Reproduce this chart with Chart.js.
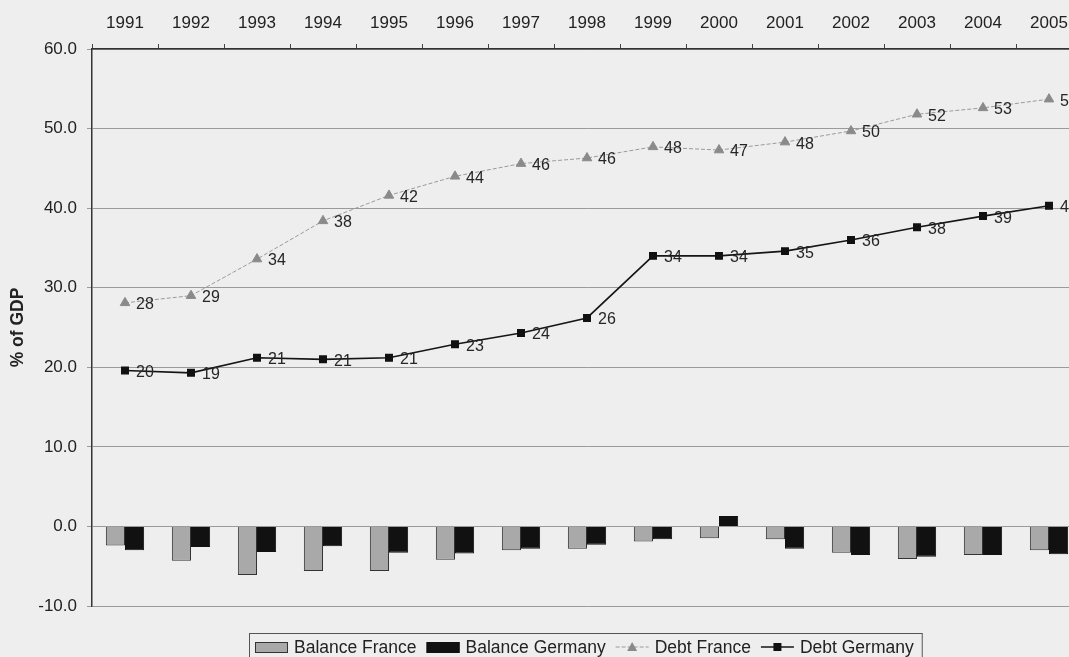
<!DOCTYPE html>
<html>
<head>
<meta charset="utf-8">
<script src="https://cdn.jsdelivr.net/npm/chart.js@4.4.1/dist/chart.umd.min.js"></script>
<style>
html, body { margin: 0; padding: 0; background: #eeeeee; overflow: hidden; width: 1069px; height: 657px; }
#wrap { position: absolute; left: 0; top: 0; width: 1100px; height: 670px; }
</style>
</head>
<body>
<div id="wrap"><canvas id="c" width="1100" height="670"></canvas></div>
<script>
const years = ['1991','1992','1993','1994','1995','1996','1997','1998','1999','2000','2001','2002','2003','2004','2005'];
const balanceFrance  = [-2.4, -4.3, -6.1, -5.6, -5.6, -4.2, -3.0, -2.8, -1.9, -1.5, -1.6, -3.3, -4.1, -3.6, -3.0];
const balanceGermany = [-3.0, -2.6, -3.2, -2.5, -3.3, -3.4, -2.8, -2.3, -1.6, 1.3, -2.8, -3.6, -3.8, -3.6, -3.5];
const debtFrance  = [28.1, 29.0, 33.6, 38.4, 41.6, 44.0, 45.6, 46.3, 47.7, 47.3, 48.3, 49.7, 51.8, 52.6, 53.7];
const debtGermany = [19.6, 19.3, 21.2, 21.0, 21.2, 22.9, 24.3, 26.2, 34.0, 34.0, 34.6, 36.0, 37.6, 39.0, 40.3];
const yTicks = [-10, 0, 10, 20, 30, 40, 50, 60];

const FONT = '"Liberation Sans", Arial, sans-serif';

const valueLabels = {
  id: 'valueLabels',
  afterDatasetsDraw(chart) {
    const ctx = chart.ctx;
    ctx.save();
    ctx.font = '16px ' + FONT;
    ctx.fillStyle = '#262626';
    ctx.textAlign = 'left';
    ctx.textBaseline = 'middle';
    chart.data.datasets.forEach((ds, i) => {
      if (ds.type !== 'line') return;
      const meta = chart.getDatasetMeta(i);
      meta.data.forEach((pt, j) => {
        ctx.fillText(String(Math.round(ds.data[j])), pt.x + 11, pt.y + 2);
      });
    });
    ctx.restore();
  }
};

const customLegend = {
  id: 'customLegend',
  afterDraw(chart) {
    const ctx = chart.ctx;
    const ca = chart.chartArea;
    ctx.save();
    ctx.font = '17.5px ' + FONT;
    const sw = 33, gapT = 6, gapI = 10, padL = 6, padR = 8;
    const items = chart.data.datasets.map(ds => ({ds, w: sw + gapT + ctx.measureText(ds.label).width}));
    let total = padL + padR;
    items.forEach((it, k) => { total += it.w + (k < items.length - 1 ? gapI : 0); });
    const cx = (ca.left + ca.right) / 2 - 2;
    const left = Math.round(cx - total / 2);
    const top = 633, h = 30, cy = 647;
    ctx.fillStyle = '#eeeeee';
    ctx.fillRect(left, top, total, h);
    ctx.strokeStyle = '#555';
    ctx.lineWidth = 1;
    ctx.strokeRect(left + 0.5, top + 0.5, total, h);
    let x = left + padL;
    items.forEach(it => {
      const ds = it.ds;
      if (ds.type === 'bar') {
        ctx.fillStyle = ds.backgroundColor;
        ctx.fillRect(x, cy - 5, sw, 11);
        ctx.strokeStyle = ds.borderColor;
        ctx.strokeRect(x + 0.5, cy - 5 + 0.5, sw - 1, 10);
      } else {
        ctx.strokeStyle = ds.borderColor;
        ctx.lineWidth = ds.borderWidth;
        ctx.setLineDash(ds.borderDash || []);
        ctx.beginPath(); ctx.moveTo(x, cy); ctx.lineTo(x + sw, cy); ctx.stroke();
        ctx.setLineDash([]);
        ctx.lineWidth = 1;
        ctx.fillStyle = ds.pointBackgroundColor;
        const mx = x + sw / 2;
        if (ds.pointStyle === 'triangle') {
          ctx.beginPath(); ctx.moveTo(mx, cy - 5); ctx.lineTo(mx + 5, cy + 4); ctx.lineTo(mx - 5, cy + 4); ctx.closePath(); ctx.fill();
        } else {
          ctx.fillRect(mx - 4, cy - 4, 8, 8);
        }
      }
      ctx.fillStyle = '#222';
      ctx.textAlign = 'left';
      ctx.textBaseline = 'middle';
      ctx.fillText(ds.label, x + sw + gapT, cy + 1);
      x += it.w + gapI;
    });
    ctx.restore();
  }
};

new Chart(document.getElementById('c'), {
  data: {
    labels: years,
    datasets: [
      { type: 'bar', label: 'Balance France', data: balanceFrance, backgroundColor: '#a9a9a9', borderColor: '#333', borderWidth: 1, order: 3, categoryPercentage: 0.58, barPercentage: 1.0 },
      { type: 'bar', label: 'Balance Germany', data: balanceGermany, backgroundColor: '#111111', borderColor: '#111111', borderWidth: 1, order: 4, categoryPercentage: 0.58, barPercentage: 1.0 },
      { type: 'line', label: 'Debt France', data: debtFrance, borderColor: '#9a9a9a', borderWidth: 1, borderDash: [4, 2], pointStyle: 'triangle', pointRadius: 5.5, pointBackgroundColor: '#8a8a8a', pointBorderColor: '#8a8a8a', order: 2, tension: 0 },
      { type: 'line', label: 'Debt Germany', data: debtGermany, borderColor: '#151515', borderWidth: 1.6, pointStyle: 'rect', pointRadius: 4.5, pointBackgroundColor: '#111', pointBorderColor: '#111', order: 1, tension: 0 }
    ]
  },
  options: {
    responsive: false,
    animation: false,
    layout: { padding: { left: 0, right: 18, top: 0, bottom: 64 } },
    plugins: { legend: { display: false }, tooltip: { enabled: false } },
    scales: {
      x: {
        position: 'top',
        offset: true,
        grid: { display: true, drawOnChartArea: false, offset: true, tickLength: 5, color: '#444' },
        border: { display: true, color: '#333', width: 1.5 },
        ticks: { color: '#222', font: { family: FONT, size: 17 }, padding: 10, maxRotation: 0 },
        afterFit(s) { s.height = 49; }
      },
      y: {
        min: -10, max: 60,
        afterBuildTicks(s) { s.ticks = yTicks.map(v => ({ value: v })); },
        grid: { color: '#9a9a9a', lineWidth: 1, tickLength: 5 },
        border: { display: true, color: '#333', width: 1.5 },
        ticks: { color: '#222', font: { family: FONT, size: 17 }, padding: 10, callback: v => Number(v).toFixed(1) },
        title: { display: true, text: '% of GDP', color: '#222', font: { family: FONT, size: 17.5, weight: 'bold' }, padding: { top: 8, bottom: 8 } },
        afterFit(s) { s.width = 92; }
      }
    }
  },
  plugins: [valueLabels, customLegend]
});
</script>
</body>
</html>
